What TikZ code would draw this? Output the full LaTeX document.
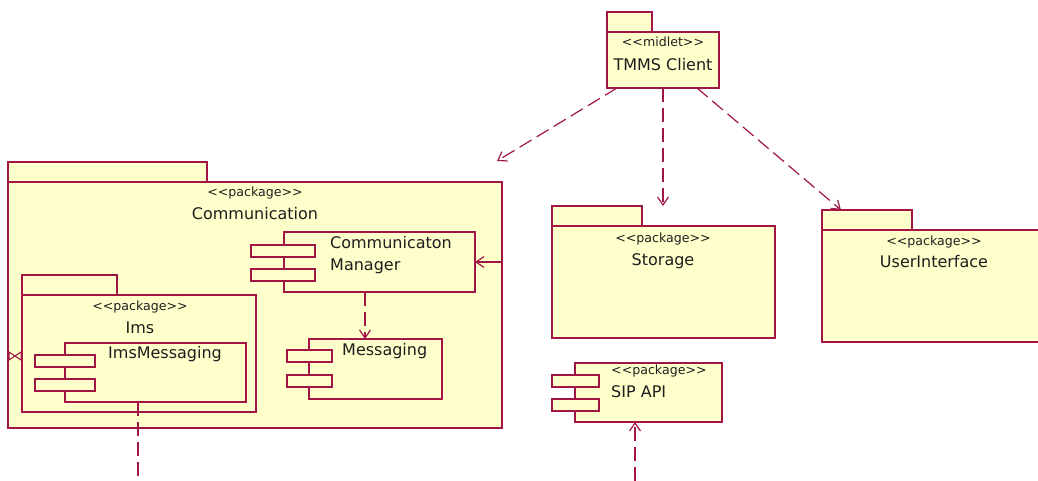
\documentclass[tikz,border=0pt]{standalone}
\usepackage{fontspec}
\setmainfont{DejaVu Sans}
\usepackage{xcolor}
\usepackage{tikz}
\usetikzlibrary{arrows.meta, positioning, calc}
\definecolor{umlline}{RGB}{160, 20, 70}
\definecolor{umlfill}{RGB}{255, 255, 204}
\definecolor{umltext}{RGB}{30, 30, 30}
\newcommand{\stereotxt}[1]{<{}<#1>{}>}

\begin{document}
\begin{tikzpicture}[
    x=1pt, y=-1pt,
    body/.style={rectangle, draw=umlline, fill=umlfill, line width=1.2pt,
                 inner sep=0pt, outer sep=0pt, anchor=north west},
    tab/.style={body, anchor=south west, minimum height=20pt},
    port/.style={body, minimum height=12pt},
    stereo/.style={font=\fontsize{12.6}{15}\selectfont, text=umltext,
                   inner sep=0pt, text height=7pt, text depth=0pt},
    pname/.style={font=\fontsize{16}{22}\selectfont, text=umltext,
                  inner sep=0pt, text height=11.7pt, text depth=0pt},
    dep/.style={-{Straight Barb[length=8pt, width=11pt]}, line width=1.2pt,
                umlline, dash pattern=on 14pt off 6pt},
    link/.style={-{Straight Barb[length=8pt, width=11pt]}, line width=1.2pt, umlline}
]
\useasboundingbox (0,0) rectangle (1038,481);
\clip (0,0) rectangle (1038,481);

% midlet
\node[body, minimum width=112pt, minimum height=56pt] (tmms) at (607,32) {};
\node[tab, minimum width=45pt] (tmmstab) at (tmms.north west) {};
\node[stereo] (tmmsst) at (663,43) {\stereotxt{midlet}};
\node[pname] (tmmsname) at (663,65) {TMMS Client};

% Communication package
\node[body, minimum width=494pt, minimum height=246pt] (comm) at (8,182) {};
\node[tab, minimum width=199pt] (commtab) at (comm.north west) {};
\node[stereo] (commst) at (255,193) {\stereotxt{package}};
\node[pname] (commname) at (255,214) {Communication};

\node[body, minimum width=191pt, minimum height=60pt] (mgr) at (284,232) {};
\node[port, minimum width=64pt] (mgrp1) at ($(mgr.north west)+(-33,13)$) {};
\node[port, minimum width=64pt] (mgrp2) at ($(mgr.north west)+(-33,37)$) {};
\node[pname, anchor=north west, align=left, text height=, text depth=] (mgrname) at (330,236) {Communicaton\\Manager};

\node[body, minimum width=234pt, minimum height=117pt] (ims) at (22,295) {};
\node[tab, minimum width=95pt] (imstab) at (ims.north west) {};
\node[stereo] (imsst) at (140,307) {\stereotxt{package}};
\node[pname] (imsname) at (140,328) {Ims};

\node[body, minimum width=181pt, minimum height=59pt] (imsmsg) at (65,343) {};
\node[port, minimum width=60pt] (imsmsgp1) at ($(imsmsg.north west)+(-30,12)$) {};
\node[port, minimum width=60pt] (imsmsgp2) at ($(imsmsg.north west)+(-30,36)$) {};
\node[pname, anchor=west] (imsmsgname) at (108,353) {ImsMessaging};

\node[body, minimum width=133pt, minimum height=60pt] (msg) at (309,339) {};
\node[port, minimum width=45pt] (msgp1) at ($(msg.north west)+(-22,11)$) {};
\node[port, minimum width=45pt] (msgp2) at ($(msg.north west)+(-22,36)$) {};
\node[pname, anchor=west] (msgname) at (342,350) {Messaging};

\draw[umlline, line width=1pt] (9,352) -- (21,360) -- (21,352) -- (9,360) -- cycle;

% Storage, UserInterface
\node[body, minimum width=223pt, minimum height=112pt] (store) at (552,226) {};
\node[tab, minimum width=90pt] (storetab) at (store.north west) {};
\node[stereo] (storest) at (663,239) {\stereotxt{package}};
\node[pname] (storename) at (663,260) {Storage};

\node[body, minimum width=240pt, minimum height=112pt] (ui) at (822,230) {};
\node[tab, minimum width=90pt] (uitab) at (ui.north west) {};
\node[stereo] (uist) at (934,242) {\stereotxt{package}};
\node[pname] (uiname) at (934,262) {UserInterface};

% SIP API
\node[body, minimum width=147pt, minimum height=59pt] (sip) at (575,363) {};
\node[port, minimum width=47pt] (sipp1) at ($(sip.north west)+(-23,12)$) {};
\node[port, minimum width=47pt] (sipp2) at ($(sip.north west)+(-23,36)$) {};
\node[stereo, anchor=west] (sipst) at (611,371) {\stereotxt{package}};
\node[pname, anchor=west] (sipname) at (611,392) {SIP API};

% dependencies
\coordinate (commin) at ($(comm.north east)+(-5,-21)$);
\coordinate (imsout) at (138,481);
\coordinate (sipin) at (635,481);

\draw[dep] ($(tmms.south west)+(10,0)$) -- (commin);
\draw[dep] (tmms.south) -- (tmms.south |- storetab.north);
\draw[dep] ($(tmms.south east)+(-22,0)$) -- ($(uitab.north west)+(19,0)$);
\draw[link] (comm.east |- mgr.east) -- (mgr.east);
\draw[dep] ($(mgr.south west)+(81,0)$) -- ($(msg.north west)+(56,0)$);
\draw[dep, -] ($(imsmsg.south west)+(73,0)$) -- (imsout);
\draw[dep] (sipin) -- ($(sip.south west)+(60,0)$);
\end{tikzpicture}
\end{document}
